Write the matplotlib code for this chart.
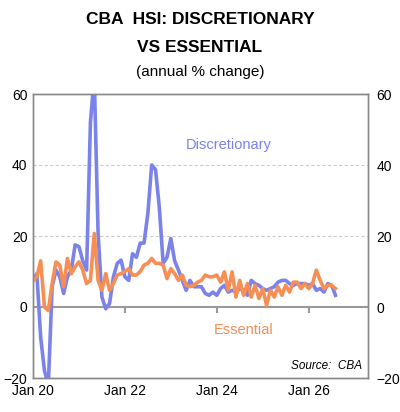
import matplotlib
matplotlib.use("Agg")
import matplotlib.pyplot as plt
import numpy as np

plt.rcParams['font.family'] = ['Liberation Sans', 'DejaVu Sans']

discretionary = [7.5, 9.4, -8.5, -18, -22, 5.7, 10.4, 8.5, 3.8, 8.5, 10.4, 17.5, 17, 13, 10.4, 52, 65, 20.7,
                 2.8, -0.5, 1, 8.5, 12.3, 13.2, 8.5, 7.5, 15, 14, 18, 18, 26.4, 40, 38.7, 28, 12.3, 14, 19.3, 13,
                 10.4, 7.5, 4.7, 7.5, 5.7, 5.7, 5.7, 3.8, 3.3, 4.2, 3.3, 5.2, 6.1, 4.2, 4.7, 4.2, 5.2, 4.7, 3.3,
                 7.5, 6.6, 6.1, 5.2, 4.7, 5.2, 5.7, 7, 7.5, 7.5, 6.6, 6.1, 6.6, 6.6, 6.6, 6.1, 6.6, 4.7, 5.2,
                 4.2, 6.6, 6.1, 3.3]
essential = [7.5, 8.5, 13, 0, -1, 6.6, 12.7, 11.8, 5.7, 13.7, 9.4, 11.3, 12.7, 10.4, 6.6, 7.5, 20.7, 7.5,
             4.7, 9.4, 4.7, 6.6, 9, 9.4, 10, 10.8, 9, 9, 10, 11.8, 12.3, 13.7, 12.3, 12.3, 11.8, 8, 10.8, 9.4,
             7.5, 9, 6.1, 5.7, 6.1, 7, 7.5, 9, 8.5, 8.5, 9, 7, 9.9, 4.7, 9.9, 2.8, 7.5, 3.3, 6.6, 2.8, 6.1,
             2.4, 5.2, 0.5, 4.7, 2.8, 5.7, 3.3, 6.1, 4.2, 7, 7, 5.2, 6.6, 5.2, 6.6, 10.4, 7.5, 5.2, 6.1, 6.1, 5.2]
tick_pos = [0, 24, 48, 72]
tick_labels = ["Jan 20", "Jan 22", "Jan 24", "Jan 26"]
yticks = [-20, 0, 20, 40, 60]

blue = "#7b83eb"
orange = "#f78f55"

fig = plt.figure(figsize=(4.0, 4.12), dpi=100)
ax = fig.add_axes([33/400, 1-378/412, 335/400, 284/412])
months = np.arange(len(discretionary))
ax.plot(months, discretionary, color=blue, lw=2.6, solid_joinstyle="round", zorder=3)
ax.plot(np.arange(len(essential)), essential, color=orange, lw=2.6, solid_joinstyle="round", zorder=4)
ax.set_xlim(0, 87.5)
ax.set_ylim(-20, 60)
for v in [20, 40]:
    ax.axhline(v, color="#cccccc", lw=0.8, ls=(0, (3, 2)), zorder=1)
ax.axhline(0, color="#999999", lw=1.5, zorder=2)
for p in tick_pos[1:]:
    ax.plot([p, p], [0, -1.5], color="#999999", lw=1.5, zorder=2)
ax.set_xticks(tick_pos)
ax.set_xticklabels(tick_labels, fontsize=10)
ax.tick_params(axis="x", length=0, pad=4)
ax.set_yticks(yticks)
ax.tick_params(axis="y", length=0, labelsize=10, pad=4)
ax2 = ax.twinx()
ax2.set_ylim(-20, 60)
ax2.set_yticks(yticks)
ax2.tick_params(axis="y", length=0, labelsize=10, pad=6)
for a in (ax, ax2):
    for s in a.spines.values():
        s.set_color("#888888")
        s.set_linewidth(1.0)
ax.text(51, 45.5, "Discretionary", color=blue, fontsize=10.5, ha="center", va="center")
ax.text(55, -6.5, "Essential", color=orange, fontsize=10.5, ha="center", va="center")
ax.text(86, -16.5, "Source:  CBA", fontsize=8.5, style="italic", ha="right", va="center")
fig.text(0.5, 1-19/412, "CBA  HSI: DISCRETIONARY", fontsize=12.5, weight="bold", ha="center", va="center")
fig.text(0.5, 1-47/412, "VS ESSENTIAL", fontsize=12.5, weight="bold", ha="center", va="center")
fig.text(0.5, 1-72/412, "(annual % change)", fontsize=11, ha="center", va="center")
fig.savefig("out.png", dpi=100)
